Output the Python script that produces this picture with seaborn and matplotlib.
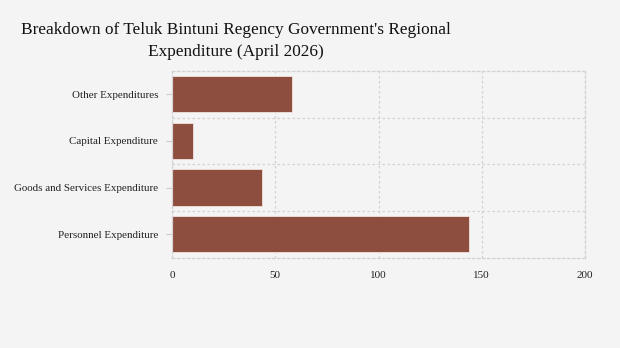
import matplotlib
matplotlib.use("Agg")
import matplotlib.pyplot as plt
import seaborn as sns
import pandas as pd
from matplotlib.ticker import FixedLocator

categories = ["Other Expenditures", "Capital Expenditure",
              "Goods and Services Expenditure", "Personnel Expenditure"]
values = [58, 10, 43.5, 144]
x_ticks = [0, 50, 100, 150, 200]
title = "Breakdown of Teluk Bintuni Regency Government's Regional\nExpenditure (April 2026)"

df = pd.DataFrame({"category": categories, "value": values})

sns.set_theme(style="white")
bg = "#f4f4f4"
fig = plt.figure(figsize=(6.2, 3.48), dpi=100, facecolor=bg)
ax = fig.add_axes([172/620, 1-257.5/348, 413/620, 186.5/348])
ax.set_facecolor(bg)

gc = "#d2d2d2"
ax.set_axisbelow(True)

sns.barplot(data=df, y="category", x="value", orient="h", ax=ax,
            color="#884536", saturation=1, width=0.78, alpha=0.95,
            edgecolor="#f4e6e2", linewidth=0.6)

ax.set_xlim(0, 200)
ax.set_ylim(3.5, -0.5)
ax.set_xticks(x_ticks)
ax.set_xticklabels([str(t) for t in x_ticks], family="Liberation Serif", fontsize=8, color="#222222")
ax.set_yticks(range(len(categories)))
ax.set_yticklabels(categories, family="Liberation Serif", fontsize=7.9, color="#222222")
ax.yaxis.set_minor_locator(FixedLocator([0.5, 1.5, 2.5]))
ax.set_xlabel("")
ax.set_ylabel("")
ax.grid(axis="x", which="major", color=gc, linestyle=(0, (2, 2)), linewidth=0.9)
ax.grid(axis="y", which="minor", color=gc, linestyle=(0, (2, 2)), linewidth=0.9)
ax.grid(axis="y", which="major", visible=False)

for s in ax.spines.values():
    s.set_visible(True)
    s.set_color(gc)
    s.set_linestyle((0, (2, 2)))
    s.set_linewidth(0.9)

ax.tick_params(axis="x", length=0, pad=10)
ax.tick_params(axis="y", which="major", length=4, color="#cccccc", width=0.8, pad=6, left=True)
ax.tick_params(axis="y", which="minor", length=0)

fig.text(236/620, 1-22/348, title, ha="center", va="top", family="Liberation Serif",
         fontsize=12.4, color="#111111", linespacing=1.5)

fig.savefig("out.png", dpi=100, facecolor=bg)
